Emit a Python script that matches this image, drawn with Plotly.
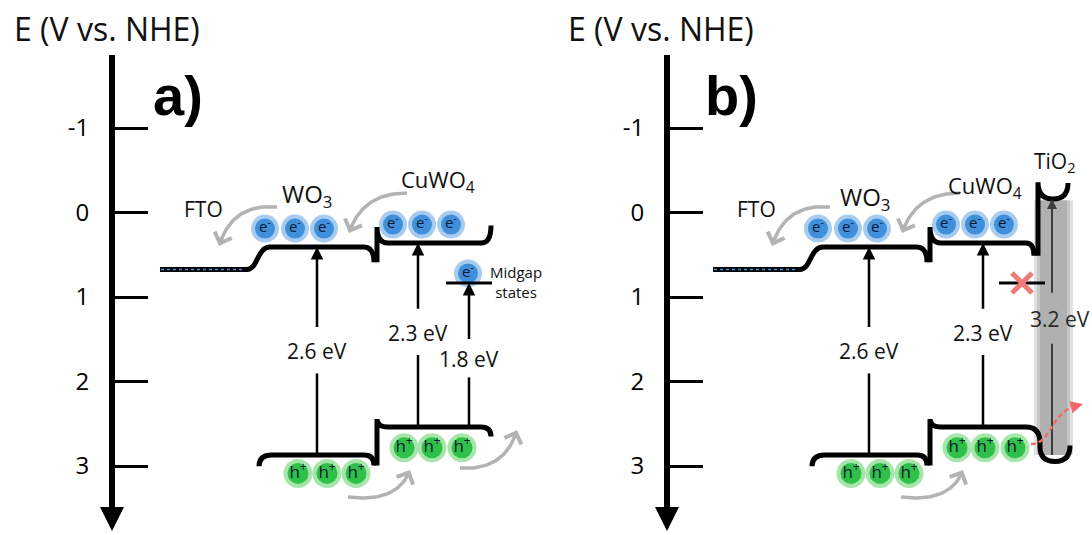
import numpy as np
import plotly.graph_objects as go

# ---- energy values (V vs. NHE) ----
axis_ticks = [-1, 0, 1, 2, 3]
axis_tick_text = ["-1", "0", "1", "2", "3"]
fto_level = 0.68
semis = ["WO<sub>3</sub>", "CuWO<sub>4</sub>"]
cb_edge = [0.40, 0.35]          # conduction band edges: WO3, CuWO4
band_gap = [2.6, 2.3]           # eV
midgap_excitation = 1.8         # CuWO4 VB -> midgap states, eV
tio2_cb = -0.20
tio2_gap = 3.2
panel_tags = ["a)", "b)"]

vb_edge = [c + g for c, g in zip(cb_edge, band_gap)]
midgap_level = vb_edge[1] - midgap_excitation
tio2_vb = tio2_cb + tio2_gap

# ---- canvas / scales ----
W, H = 1092, 535
S, O = 80.0, 215.0              # diagram: px per eV, px row of 0 V
AX_S, AX_O = 84.5, 212.5        # drawn energy axis: px per eV, px row of 0 V
AX_TOP, AX_BOT = 55, 512
AXIS_X = [112, 667]
DX = 553                        # horizontal shift of panel b
FONT = "Open Sans"

fig = go.Figure()
shapes, annotations = [], []


def P(x, e):
    return f"{x:.2f},{e:.4f}"


def band(path, width=5, color="black"):
    shapes.append(dict(type="path", path=path, xref="x", yref="y2",
                       line=dict(color=color, width=width), layer="above"))


def gap_arrow(x, e_low, e_high, label, shift=0.0, half=0.28, color="black",
              width=2.5, fcolor="#111", size=21, lx=0):
    mid = (e_low + e_high) / 2 + shift
    fig.add_trace(go.Scatter(x=[x, x], y=[e_low, mid + half], yaxis="y2",
                             mode="lines", line=dict(color=color, width=width),
                             hoverinfo="skip", showlegend=False))
    annotations.append(dict(x=x, y=e_high, ax=x, ay=mid - half, xref="x", yref="y2",
                            axref="x", ayref="y2", text="", showarrow=True,
                            arrowhead=2, arrowsize=1.0, arrowwidth=width,
                            arrowcolor=color))
    annotations.append(dict(x=x + lx, y=mid, xref="x", yref="y2", text=label,
                            showarrow=False, font=dict(family=FONT, size=size, color=fcolor),
                            xanchor="center", yanchor="middle"))


def curved_arrow(p0, p1, p2, color="#b3b3b3", width=3.5, dash=None, head=4, hsize=1.0):
    t = np.linspace(0, 1, 40)[:, None]
    a, b, c = map(np.array, (p0, p1, p2))
    pts = (1 - t) ** 2 * a + 2 * (1 - t) * t * b + t ** 2 * c
    fig.add_trace(go.Scatter(x=pts[:-3, 0], y=pts[:-3, 1], yaxis="y", mode="lines",
                             line=dict(color=color, width=width, dash=dash),
                             hoverinfo="skip", showlegend=False))
    annotations.append(dict(x=pts[-1, 0], y=pts[-1, 1], ax=pts[-6, 0], ay=pts[-6, 1],
                            xref="x", yref="y", axref="x", ayref="y", text="",
                            showarrow=True, arrowhead=head, arrowsize=hsize,
                            arrowwidth=width, arrowcolor=color))


def carriers(xs, e, sym, core, halo, size=20, tsize=15):
    fig.add_trace(go.Scatter(x=xs, y=[e] * len(xs), yaxis="y2", mode="markers",
                             marker=dict(size=size + 8, color=halo, line=dict(width=0)),
                             hoverinfo="skip", showlegend=False))
    fig.add_trace(go.Scatter(x=xs, y=[e] * len(xs), yaxis="y2", mode="markers+text",
                             marker=dict(size=size, color=core, line=dict(width=0)),
                             text=[sym] * len(xs), textposition="middle center",
                             textfont=dict(family=FONT, size=tsize, color="#0b1a33"),
                             hoverinfo="skip", showlegend=False))


def text(x, y, s, size, color="#111", family=FONT):
    annotations.append(dict(x=x, y=y, xref="x", yref="y", text=s, showarrow=False,
                            font=dict(family=family, size=size, color=color),
                            xanchor="center", yanchor="middle"))


cbw, cbc = cb_edge
vbw, vbc = vb_edge

# TiO2 band of panel b (soft grey column)
for x0, x1, col in [(1034, 1073, "#e0e0e0"), (1037, 1070, "#c6c6c6"), (1040, 1067, "#b0b0b0")]:
    shapes.append(dict(type="rect", xref="x", yref="y2", x0=x0, x1=x1,
                       y0=tio2_cb + 0.02, y1=tio2_vb, fillcolor=col,
                       line=dict(width=0), layer="below"))

for k, dx in enumerate([0, DX]):
    # FTO level + WO3 conduction band
    band(f"M{P(160+dx, fto_level)} L{P(247+dx, fto_level)} "
         f"C{P(258+dx, fto_level)} {P(257+dx, cbw)} {P(270+dx, cbw)} "
         f"L{P(364+dx, cbw)} Q{P(374+dx, cbw)} {P(374+dx, cbw+0.19)}")
    shapes.append(dict(type="line", xref="x", yref="y2", x0=161+dx, x1=243+dx,
                       y0=fto_level, y1=fto_level, layer="above",
                       line=dict(color="#2f9fe0", width=1.5, dash="dot")))
    # CuWO4 conduction band
    cu_cb = (f"M{P(377+dx, cbw+0.19)} L{P(377+dx, cbc-0.2)} "
             f"Q{P(377+dx, cbc)} {P(388+dx, cbc)} ")
    if k == 0:
        cu_cb += f"L{P(481, cbc)} Q{P(491, cbc)} {P(491, cbc-0.22)}"
    else:
        cu_cb += f"L{P(473+dx, cbc)} Q{P(481+dx, cbc)} {P(481+dx, cbc+0.16)}"
    band(cu_cb)
    # WO3 valence band
    band(f"M{P(259+dx, vbw+0.14)} Q{P(259+dx, vbw)} {P(272+dx, vbw)} "
         f"L{P(364+dx, vbw)} Q{P(374+dx, vbw)} {P(374+dx, vbw+0.13)}")
    # CuWO4 valence band
    cu_vb = (f"M{P(377+dx, vbw+0.13)} L{P(377+dx, vbc-0.1)} "
             f"Q{P(377+dx, vbc)} {P(388+dx, vbc)} ")
    if k == 0:
        cu_vb += f"L{P(481, vbc)} Q{P(491, vbc)} {P(491, vbc+0.12)}"
    else:
        cu_vb += (f"L{P(473+dx, vbc)} Q{P(487+dx, vbc)} {P(487+dx, vbc+0.2)} "
                  f"L{P(487+dx, tio2_vb-0.1)} Q{P(487+dx, tio2_vb+0.08)} {P(502+dx, tio2_vb+0.08)} "
                  f"Q{P(517+dx, tio2_vb+0.08)} {P(517+dx, tio2_vb-0.12)}")
    band(cu_vb)

    # band-gap arrows
    gap_arrow([317, 869][k], vbw, cbw, "2.6 eV")
    gap_arrow([418, 983][k], vbc, cbc, "2.3 eV", shift=-0.03)

    # midgap states
    mx = [446, 999][k]
    shapes.append(dict(type="line", xref="x", yref="y2", x0=mx, x1=mx+46,
                       y0=midgap_level, y1=midgap_level, layer="above",
                       line=dict(color="black", width=3)))

    # carriers
    carriers([265+dx, 295+dx, 324+dx], cbw - 0.23, "e<sup>-</sup>", "#3f8fda", "#a8ccef")
    carriers([393+dx, 422+dx, 451+dx], cbc - 0.23, "e<sup>-</sup>", "#3f8fda", "#a8ccef")
    carriers([298+dx, 327+dx, 356+dx], vbw + 0.23, "h<sup>+</sup>", "#2fc04a", "#a6e6ab",
             size=21, tsize=17)
    carriers([404+dx, 432+dx, 462+dx], vbc + 0.26, "h<sup>+</sup>", "#2fc04a", "#a6e6ab",
             size=21, tsize=17)

    # charge transfer arrows
    curved_arrow((277+dx, 207), (232+dx, 203), (219+dx, 246))
    curved_arrow((407+dx, 193), (362+dx, 193), (349+dx, 233))
    curved_arrow((348+dx, 497), (398+dx, 503), (410+dx, 470))

    # texts
    text(107 + [0, 554][k], 28, "E (V vs. NHE)", 32)
    text(178 + dx, 95, panel_tags[k], 56, color="black", family="Liberation Sans, Arial")
    annotations[-1]["font"]["weight"] = "bold"
    text(203 + dx, 209, "FTO", 21)
    text([307, 865][k], [195, 198][k], semis[0], 24)
    text([438, 985][k], [181, 187][k], semis[1], 22)

# panel a extras: midgap excitation + hole transfer
gap_arrow(469, vbc, midgap_level, "1.8 eV", shift=0.05, half=0.23)
carriers([468], midgap_level - 0.12, "e<sup>-</sup>", "#3f8fda", "#a8ccef")
annotations.append(dict(x=516, y=282, xref="x", yref="y", text="Midgap<br>states",
                        showarrow=False, font=dict(family=FONT, size=15, color="#111"),
                        xanchor="center", yanchor="middle"))
curved_arrow((460, 468), (505, 471), (517, 430))

# panel b extras: TiO2 layer
band(f"M{P(1038, cbc+0.16)} L{P(1038, tio2_cb-0.21)} Q{P(1038, tio2_cb)} {P(1053, tio2_cb)} "
     f"Q{P(1068, tio2_cb)} {P(1068, tio2_cb-0.2)}")
gap_arrow(1052, tio2_vb, tio2_cb, "3.2 eV", shift=-0.1, half=0.31, color="#3c3c3c",
          width=2, fcolor="#2a2a2a", lx=8)
text(1055, 162, "TiO<sub>2</sub>", 21)
# blocked midgap path
xc, ec = 1022, midgap_level
for sgn in (1, -1):
    shapes.append(dict(type="line", xref="x", yref="y2", x0=xc-10, x1=xc+10,
                       y0=ec - sgn*0.125, y1=ec + sgn*0.125, layer="above",
                       line=dict(color="#f37878", width=5)))
# hole injection into TiO2 (dashed, drawn over the band edges)
t = np.linspace(0, 1, 40)[:, None]
c0, c1, c2, c3 = map(np.array, [(1031, 444), (1053, 444), (1050, 408), (1083, 404)])
red = (1-t)**3*c0 + 3*(1-t)**2*t*c1 + 3*(1-t)*t**2*c2 + t**3*c3
red_path = "M" + " L".join(f"{x:.2f},{y:.2f}" for x, y in red[:-3])
shapes.append(dict(type="path", path=red_path, xref="x", yref="y", layer="above",
                   line=dict(color="#f06a6a", width=2.5, dash="5px,3px")))
annotations.append(dict(x=red[-1, 0], y=red[-1, 1], ax=red[-6, 0], ay=red[-6, 1],
                        xref="x", yref="y", axref="x", ayref="y", text="", showarrow=True,
                        arrowhead=2, arrowsize=1.0, arrowwidth=2.5, arrowcolor="#f06a6a"))

# energy axes arrowheads
for ax_x in AXIS_X:
    annotations.append(dict(x=ax_x, y=531, ax=ax_x, ay=500, xref="x", yref="y",
                            axref="x", ayref="y", text="", showarrow=True, arrowhead=2,
                            arrowsize=0.8, arrowwidth=6, arrowcolor="black"))

# anchor traces for the drawn energy axes
for ya in ["y3", "y4"]:
    fig.add_trace(go.Scatter(x=[None], y=[None], yaxis=ya, showlegend=False, hoverinfo="skip"))

dom = [1 - AX_BOT / H, 1 - AX_TOP / H]
ax_range = [(AX_BOT - AX_O) / AX_S, (AX_TOP - AX_O) / AX_S]
energy_axis = dict(domain=dom, range=ax_range, anchor="free", showline=True, linewidth=6,
                   linecolor="black", ticks="inside", ticklen=33, tickwidth=3,
                   tickcolor="black", tickvals=axis_ticks, ticktext=axis_tick_text,
                   tickfont=dict(family=FONT, size=24, color="black"),
                   ticklabelstandoff=15, showgrid=False, zeroline=False, fixedrange=True)

fig.update_layout(
    width=W, height=H, margin=dict(l=0, r=0, t=0, b=0),
    paper_bgcolor="white", plot_bgcolor="rgba(0,0,0,0)", showlegend=False,
    xaxis=dict(range=[0, W], visible=False, fixedrange=True, domain=[0, 1]),
    yaxis=dict(range=[H, 0], visible=False, fixedrange=True, domain=[0, 1]),
    yaxis2=dict(range=[(H - O) / S, -O / S], visible=False, overlaying="y", fixedrange=True),
    yaxis3=dict(energy_axis, position=AXIS_X[0] / W),
    yaxis4=dict(energy_axis, position=AXIS_X[1] / W, overlaying="y3"),
    shapes=shapes, annotations=annotations,
)

fig.write_html("out.html")
